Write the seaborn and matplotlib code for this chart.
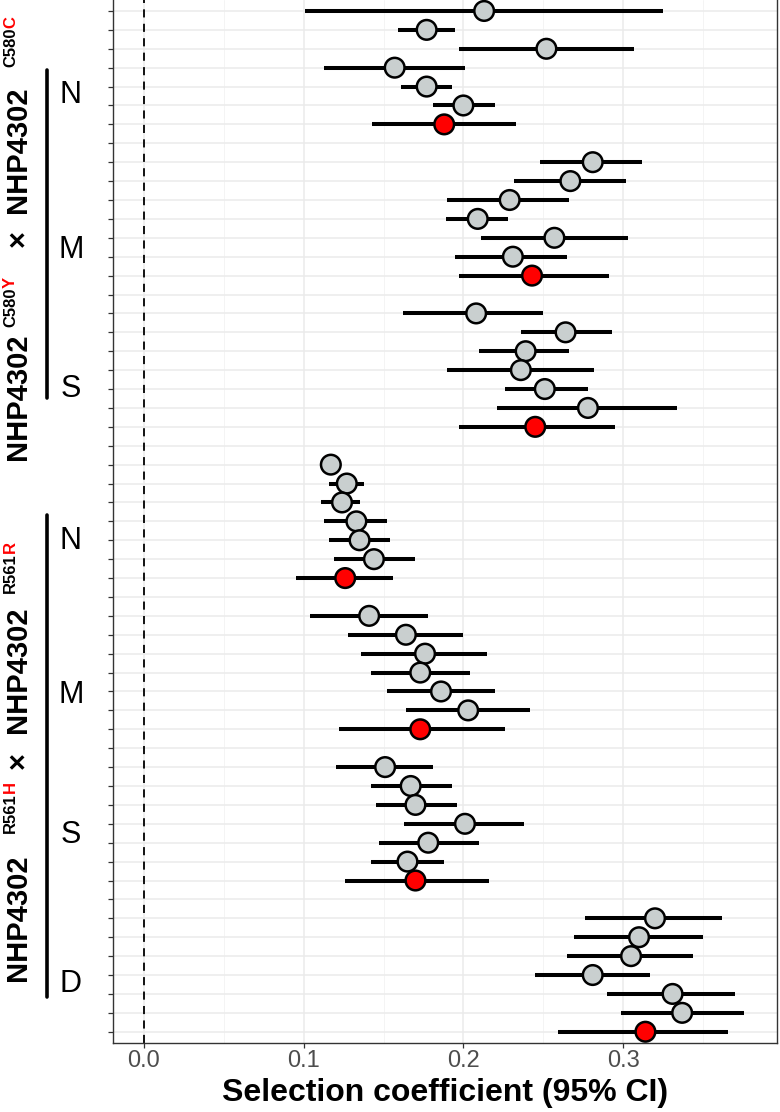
import numpy as np
import pandas as pd
import matplotlib
matplotlib.use("Agg")
import matplotlib.pyplot as plt
import seaborn as sns
from matplotlib.lines import Line2D

nan = np.nan

# ---- data (top to bottom, NaN = spacer row) ----
estimate = [0.213, 0.177, 0.252, 0.157, 0.177, 0.200, 0.188, nan,
            0.281, 0.267, 0.229, 0.209, 0.257, 0.231, 0.243, nan,
            0.208, 0.264, 0.239, 0.236, 0.251, 0.278, 0.245, nan,
            0.117, 0.127, 0.124, 0.133, 0.135, 0.144, 0.126, nan,
            0.141, 0.164, 0.176, 0.173, 0.186, 0.203, 0.173, nan,
            0.151, 0.167, 0.170, 0.201, 0.178, 0.165, 0.170, nan,
            0.320, 0.310, 0.305, 0.281, 0.331, 0.337, 0.314]
lower = [0.101, 0.159, 0.197, 0.113, 0.161, 0.181, 0.143, nan,
         0.248, 0.232, 0.190, 0.189, 0.211, 0.195, 0.197, nan,
         0.162, 0.236, 0.210, 0.190, 0.226, 0.221, 0.197, nan,
         0.112, 0.116, 0.111, 0.113, 0.116, 0.119, 0.095, nan,
         0.104, 0.128, 0.136, 0.142, 0.152, 0.164, 0.122, nan,
         0.120, 0.142, 0.145, 0.163, 0.147, 0.142, 0.126, nan,
         0.276, 0.269, 0.265, 0.245, 0.290, 0.299, 0.259]
upper = [0.325, 0.195, 0.307, 0.201, 0.193, 0.220, 0.233, nan,
         0.312, 0.302, 0.266, 0.228, 0.303, 0.265, 0.291, nan,
         0.250, 0.293, 0.266, 0.282, 0.278, 0.334, 0.295, nan,
         0.122, 0.138, 0.135, 0.152, 0.154, 0.170, 0.156, nan,
         0.178, 0.200, 0.215, 0.204, 0.220, 0.242, 0.226, nan,
         0.181, 0.193, 0.196, 0.238, 0.210, 0.188, 0.216, nan,
         0.362, 0.350, 0.344, 0.317, 0.370, 0.376, 0.366]
# 1 = pooled estimate (red), 0 = replicate (grey)
pooled = ([0] * 6 + [1, 0]) * 6 + [0] * 6 + [1]

xtick_values = [0.0, 0.1, 0.2, 0.3]
xtick_labels = ["0.0", "0.1", "0.2", "0.3"]
xlabel = "Selection coefficient (95% CI)"
section_letters = ["N", "M", "S", "N", "M", "S", "D"]

# ---- frame ----
rows = np.arange(len(estimate))
df = pd.DataFrame({"row": rows, "est": estimate, "lo": lower, "hi": upper,
                   "kind": ["pooled" if p else "rep" for p in pooled]})
pts = df.dropna()

W, H = 780, 1112
sns.set_theme(style="white")
plt.rcParams["font.family"] = ["Liberation Sans", "DejaVu Sans"]

fig = plt.figure(figsize=(W / 100, H / 100), dpi=100)
ax = fig.add_axes([113 / W, 1 - 1042.7 / H, (777 - 113) / W, 1042.7 / H])

# grid
ax.set_xticks(xtick_values)
ax.set_xticklabels(xtick_labels)
ax.set_xticks([0.05, 0.15, 0.25, 0.35], minor=True)
ax.set_yticks(rows)
ax.grid(which="major", axis="both", color="#EBEBEB", lw=1.1, zorder=0)
ax.grid(which="minor", axis="x", color="#F2F2F2", lw=0.6, zorder=0)
ax.set_axisbelow(True)

ax.axvline(0, color="black", lw=1.3, dashes=(4.5, 3.5), zorder=1)

ax.hlines(pts["row"], pts["lo"], pts["hi"], color="black", lw=2.9, zorder=2)
sns.scatterplot(data=pts, x="est", y="row", hue="kind",
                palette={"rep": "#C9CFCF", "pooled": "#FF0000"},
                s=200, edgecolor="black", linewidth=1.8, legend=False,
                zorder=3, ax=ax, clip_on=False)

ax.set_xlim(-0.0194, 0.3964)
ax.set_ylim(len(estimate) - 1 + 0.58, -0.58)
ax.set_ylabel("")
ax.set_xlabel(xlabel, fontsize=23, fontweight="bold", color="black", labelpad=4)
ax.tick_params(axis="y", which="major", length=3.5, width=0.9, color="#333333",
               labelleft=False, left=True)
ax.tick_params(axis="x", which="major", length=3.5, width=0.9, color="#333333",
               labelsize=17, labelcolor="#4D4D4D", pad=2, bottom=True)
ax.tick_params(axis="x", which="minor", length=0)
for side in ["left", "right", "bottom"]:
    ax.spines[side].set_color("#333333")
    ax.spines[side].set_linewidth(1.0)
ax.spines["top"].set_visible(False)

# ---- section letters and bars (figure pixel layout) ----
letter_centers = [92, 247, 386, 538, 692, 832, 981]
for letter, cy in zip(section_letters, letter_centers):
    fig.text(71 / W, 1 - (cy + 11) / H, letter, ha="center", va="baseline",
             fontsize=22, color="black")
for y0, y1 in [(70, 398), (515, 997)]:
    fig.add_artist(Line2D([47 / W, 47 / W], [1 - y0 / H, 1 - y1 / H],
                          transform=fig.transFigure, color="black", lw=2.6))

# ---- rotated genotype labels ----
def piece(txt, x, y_img, size, color="black", weight="bold"):
    return ax.annotate(txt, xy=(x, H - y_img), xycoords="figure pixels",
                       rotation=90, rotation_mode="anchor", ha="left",
                       va="baseline", fontsize=size, color=color,
                       fontweight=weight, annotation_clip=False)

def chain(txt, prev, x, size, color="black", weight="bold"):
    return ax.annotate(txt, xy=(x, 1.0), xycoords=("figure pixels", prev),
                       rotation=90, rotation_mode="anchor", ha="left",
                       va="baseline", fontsize=size, color=color,
                       fontweight=weight, annotation_clip=False)

MAIN_X, SUP_X, MAIN_FS, SUP_FS = 26, 15, 21, 12
labels = [
    ("C580", "Y", "C580", "C", 460, 327, 247, 213, 67),
    ("R561", "H", "R561", "R", 981, 833, 769, 733, 593),
]
for s1, r1, s2, r2, a, b, c, d, e in labels:
    piece("NHP4302", MAIN_X, a, MAIN_FS)
    t = piece(s1, SUP_X, b, SUP_FS)
    chain(r1, t, SUP_X, SUP_FS, color="#FF0000")
    piece("\u00d7", MAIN_X, c, MAIN_FS)
    piece("NHP4302", MAIN_X, d, MAIN_FS)
    t = piece(s2, SUP_X, e, SUP_FS)
    chain(r2, t, SUP_X, SUP_FS, color="#FF0000")

fig.savefig("out.png", dpi=100)
